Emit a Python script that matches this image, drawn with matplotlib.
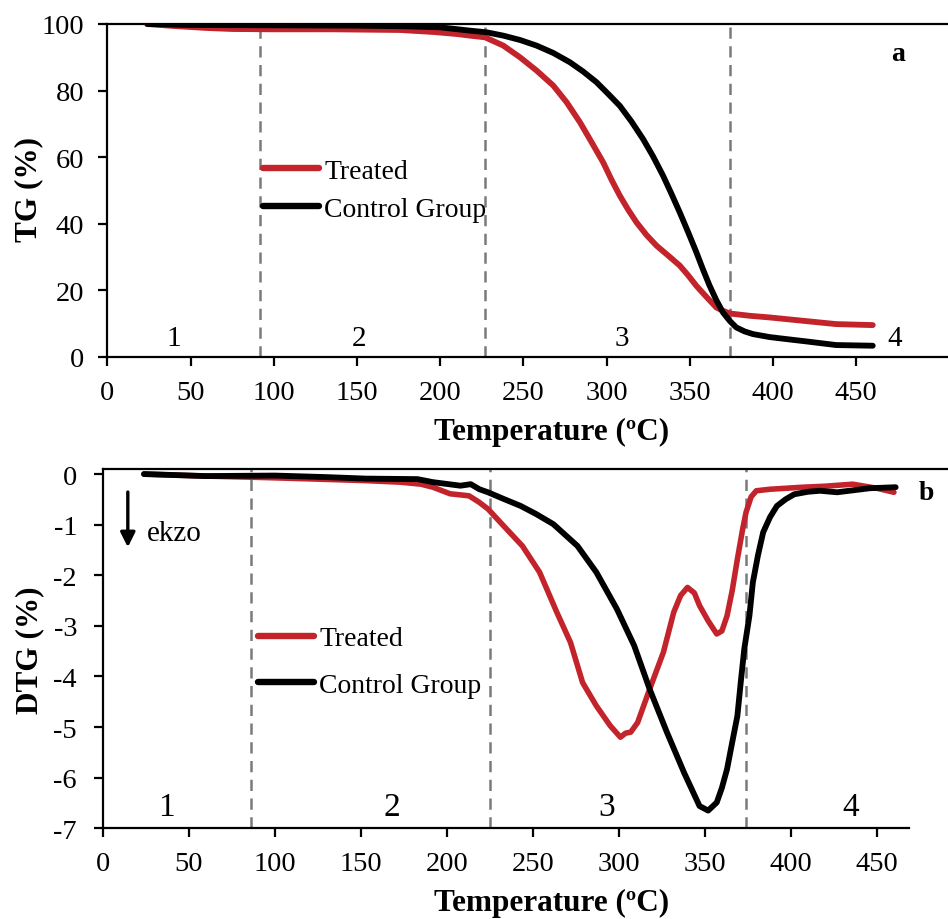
import matplotlib
matplotlib.use("Agg")
import matplotlib.pyplot as plt

plt.rcParams['font.family'] = ['Liberation Serif', 'DejaVu Serif']
plt.rcParams['axes.unicode_minus'] = False

# ---------------- data ----------------
tg_treated_T = [24, 40, 60, 75, 100, 136, 176, 196, 210, 218, 227, 238, 248, 258, 268, 276, 284, 291, 298,
                303, 308, 313, 318, 324, 330, 338, 344, 349, 354, 360, 366, 370, 374, 386, 398, 418, 438, 460]
tg_treated = [100, 99.4, 98.8, 98.5, 98.4, 98.4, 98.2, 97.6, 97.0, 96.5, 96.0, 93.5, 90.0, 86.0, 81.5, 76.5,
              70.5, 64.5, 58.4, 53.2, 48.4, 44.2, 40.4, 36.6, 33.4, 30.0, 27.4, 24.5, 21.3, 18.0, 14.8, 13.8,
              13.0, 12.3, 11.8, 10.8, 9.8, 9.5]

tg_control_T = [24, 50, 100, 150, 180, 200, 218, 228, 238, 248, 258, 268, 278, 286, 294, 301, 308, 315, 322,
                328, 334, 339, 344, 349, 354, 358, 362, 366, 370, 374, 378, 383, 388, 398, 408, 420, 438, 460]
tg_control = [100, 99.7, 99.6, 99.5, 99.3, 99.0, 98.0, 97.5, 96.5, 95.2, 93.5, 91.3, 88.5, 85.7, 82.5, 79.0,
              75.4, 70.7, 65.4, 60.2, 54.4, 49.0, 43.4, 37.5, 31.4, 26.2, 21.3, 17.0, 13.3, 10.8, 8.8, 7.6,
              6.8, 5.9, 5.3, 4.6, 3.5, 3.3]

dtg_treated_T = [24, 60, 95, 125, 153, 173, 185, 192, 202, 213, 219, 224, 233, 244, 254, 264, 272, 279, 287,
                 295, 301, 304, 307, 311, 318, 326, 332, 336, 340, 344, 347, 352, 357, 360, 363, 366, 369, 372,
                 374, 377, 380, 388, 407, 420, 436, 450, 460]
dtg_treated = [0.0, -0.04, -0.07, -0.1, -0.13, -0.16, -0.2, -0.26, -0.39, -0.43, -0.56, -0.69, -1.02, -1.42,
               -1.94, -2.73, -3.33, -4.12, -4.58, -4.97, -5.2, -5.12, -5.1, -4.91, -4.25, -3.52, -2.73, -2.4,
               -2.24, -2.35, -2.6, -2.9, -3.16, -3.1, -2.8, -2.3, -1.68, -1.1, -0.76, -0.45, -0.33, -0.3, -0.26,
               -0.24, -0.2, -0.28, -0.36]

dtg_control_T = [24, 60, 100, 130, 153, 183, 192, 208, 214, 219, 224, 233, 243, 252, 262, 276, 287, 299, 309,
                 318, 328, 338, 347, 352, 357, 360, 363, 366, 369, 371, 373, 376, 378, 381, 384, 388, 392, 397,
                 402, 410, 417, 427, 446, 461]
dtg_control = [0.0, -0.04, -0.03, -0.06, -0.09, -0.1, -0.16, -0.23, -0.2, -0.3, -0.36, -0.49, -0.63, -0.79,
               -0.99, -1.42, -1.94, -2.67, -3.39, -4.25, -5.1, -5.9, -6.56, -6.65, -6.49, -6.2, -5.83, -5.3,
               -4.78, -4.1, -3.46, -2.8, -2.14, -1.6, -1.15, -0.85, -0.63, -0.5, -0.4, -0.35, -0.33, -0.36,
               -0.28, -0.26]

xticks = [0, 50, 100, 150, 200, 250, 300, 350, 400, 450]
tg_yticks = [0, 20, 40, 60, 80, 100]
dtg_yticks = [0, -1, -2, -3, -4, -5, -6, -7]
tg_dividers = [92, 227, 374]
dtg_dividers = [86, 225, 374]
tg_stage_labels = [("1", 40), ("2", 151), ("3", 309), ("4", 473)]
dtg_stage_labels = [("1", 37), ("2", 168), ("3", 293), ("4", 435)]
series_names = ["Treated", "Control Group"]

RED = '#C3242B'
BLACK = '#000000'
GRAY = '#7A7A7A'

fig = plt.figure(figsize=(9.48, 9.2), dpi=100)
W, H = 948, 920

def px_axes(left, top, right, bottom):
    return fig.add_axes([left / W, 1 - bottom / H, (right - left) / W, (bottom - top) / H])

TICK_FS = 20.5

def style_axes(ax, ypad):
    ax.spines['right'].set_visible(False)
    for s in ['left', 'bottom', 'top']:
        ax.spines[s].set_linewidth(1.6)
    ax.tick_params(axis='both', direction='out', length=6.5, width=1.6, labelsize=TICK_FS)
    ax.tick_params(axis='x', pad=10)
    ax.tick_params(axis='y', pad=ypad)
    ax.tick_params(top=False, right=False)

LW = 4.2

# ---------------- panel a ----------------
ax1 = px_axes(107.3, 25, 948, 357.7)
ax1.set_xlim(0, (948 - 107.3) / 1.664)
ax1.set_ylim(0, 100)
style_axes(ax1, 10)
ax1.set_xticks(xticks)
ax1.set_yticks(tg_yticks)
for xv in tg_dividers:
    ax1.axvline(xv, color=GRAY, lw=1.8, ls=(0, (4.5, 3)), zorder=1)
l1, = ax1.plot(tg_treated_T, tg_treated, color=RED, lw=LW, solid_capstyle='round', solid_joinstyle='round', zorder=3)
l2, = ax1.plot(tg_control_T, tg_control, color=BLACK, lw=LW, solid_capstyle='round', solid_joinstyle='round', zorder=4)
for s, xv in tg_stage_labels:
    ax1.text(xv, 5.5, s, fontsize=21, ha='center', va='center')
ax1.text(475, 91, "a", fontsize=20, fontweight='bold', ha='center', va='center')
leg1 = ax1.legend([l1, l2], series_names, loc='upper left', bbox_to_anchor=(93.6, 59.6),
                  bbox_transform=ax1.transData, frameon=False, fontsize=20, handlelength=2.0,
                  handletextpad=0.2, labelspacing=0.45, borderpad=0, borderaxespad=0)
for h in leg1.get_lines():
    h.set_linewidth(4.6)

# ---------------- panel b ----------------
ax2 = px_axes(102.7, 470, 948, 829.3)
ax2.set_xlim(0, (948 - 102.7) / 1.72)
ax2.set_ylim(-7, 0.1)
style_axes(ax2, 12)
ax2.spines['bottom'].set_bounds(0, 469)
ax2.set_xticks(xticks)
ax2.set_yticks(dtg_yticks)
for xv in dtg_dividers:
    ax2.axvline(xv, color=GRAY, lw=1.8, ls=(0, (4.5, 3)), zorder=1)
m1, = ax2.plot(dtg_treated_T, dtg_treated, color=RED, lw=LW - 0.2, solid_capstyle='round', solid_joinstyle='round', zorder=3)
m2, = ax2.plot(dtg_control_T, dtg_control, color=BLACK, lw=LW, solid_capstyle='round', solid_joinstyle='round', zorder=4)
for s, xv in dtg_stage_labels:
    ax2.text(xv, -6.58, s, fontsize=24, ha='center', va='center')
ax2.text(479, -0.36, "b", fontsize=20, fontweight='bold', ha='center', va='center')
ax2.annotate("", xy=(14.6, -1.5), xytext=(14.6, -0.3),
             arrowprops=dict(arrowstyle='-|>', color='black', lw=2.4, mutation_scale=22))
ax2.text(25.5, -1.17, "ekzo", fontsize=21, ha='left', va='center')
leg2 = ax2.legend([m1, m2], series_names, loc='upper left', bbox_to_anchor=(90.3, -3.0),
                  bbox_transform=ax2.transData, frameon=False, fontsize=20, handlelength=2.0,
                  handletextpad=0.2, labelspacing=0.75, borderpad=0, borderaxespad=0)
for h in leg2.get_lines():
    h.set_linewidth(4.6)

# axis labels
fig.text(552 / W, 1 - 432 / H, "Temperature (ºC)", fontsize=22.5, fontweight='bold', ha='center', va='center')
fig.text(552 / W, 1 - 903 / H, "Temperature (ºC)", fontsize=22.5, fontweight='bold', ha='center', va='center')
fig.text(29 / W, 1 - 190 / H, "TG (%)", fontsize=22.5, fontweight='bold', ha='center', va='center', rotation=90)
fig.text(30 / W, 1 - 650 / H, "DTG (%)", fontsize=22.5, fontweight='bold', ha='center', va='center', rotation=90)

fig.savefig("out.png", dpi=100)
